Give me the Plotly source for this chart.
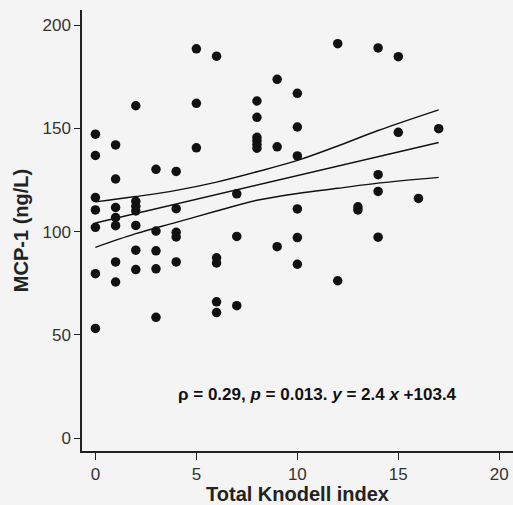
import plotly.graph_objects as go

# Data (Total Knodell index vs MCP-1)
knodell = ([0]*7 + [1]*7 + [2]*7 + [3]*5 + [4]*5 + [5]*3 + [6]*5 + [7]*3 +
           [8]*6 + [9]*3 + [10]*6 + [12]*2 + [13]*2 + [14]*4 + [15]*2 + [16] + [17])
mcp1 = [147.2, 136.9, 116.5, 110.5, 102.1, 79.6, 53.1,
        142.0, 125.5, 111.7, 106.8, 102.9, 85.3, 75.6,
        161.0, 114.7, 112.3, 110.0, 103.0, 91.0, 81.6,
        130.2, 100.3, 90.7, 82.0, 58.5,
        129.2, 111.1, 99.7, 97.4, 85.3,
        188.6, 162.2, 140.6,
        185.0, 87.3, 84.8, 66.0, 60.8,
        118.3, 97.7, 64.1,
        163.3, 155.4, 145.7, 144.0, 142.2, 140.4,
        173.8, 141.1, 92.7,
        167.0, 150.7, 136.7, 111.0, 97.1, 84.2,
        191.1, 76.2,
        112.0, 110.5,
        189.0, 127.6, 119.5, 97.3,
        184.8, 148.1,
        116.1,
        149.9]

# Regression line and confidence band
fit_x = [0, 17]
fit_y = [104.2, 143.2]
band_x = [0, 2, 4, 6, 8, 10, 12, 14, 17]
band_upper = [114.4, 117.0, 120.0, 124.0, 129.0, 134.5, 141.5, 149.0, 159.0]
band_lower = [92.4, 99.0, 104.5, 110.0, 115.2, 118.5, 121.0, 123.5, 126.3]

x_ticks = [0, 5, 10, 15, 20]
y_ticks = [0, 50, 100, 150, 200]

FONT = "Liberation Sans, Arial, sans-serif"
BG = "#f4f4f4"

fig = go.Figure()
fig.add_trace(go.Scatter(x=band_x, y=band_upper, mode="lines",
                         line=dict(color="#111111", width=1.4, shape="spline"),
                         showlegend=False, hoverinfo="skip"))
fig.add_trace(go.Scatter(x=band_x, y=band_lower, mode="lines",
                         line=dict(color="#111111", width=1.4, shape="spline"),
                         showlegend=False, hoverinfo="skip"))
fig.add_trace(go.Scatter(x=fit_x, y=fit_y, mode="lines",
                         line=dict(color="#111111", width=1.4),
                         showlegend=False, hoverinfo="skip"))
fig.add_trace(go.Scatter(x=knodell, y=mcp1, mode="markers",
                         marker=dict(color="#111111", size=9.5, line=dict(width=0)),
                         showlegend=False))

fig.add_annotation(x=11.0, y=21, xref="x", yref="y",
                   text="<b>ρ = 0.29, <i>p</i> = 0.013. <i>y</i> = 2.4 <i>x</i> +103.4</b>",
                   showarrow=False, font=dict(family=FONT, size=17, color="#111111"))

fig.update_layout(
    width=513, height=505,
    margin=dict(l=82, r=0, t=10, b=54),
    paper_bgcolor=BG, plot_bgcolor=BG,
    font=dict(family=FONT, color="#222222"),
    xaxis=dict(range=[-0.664, 20.68], tickvals=x_ticks, ticktext=[str(v) for v in x_ticks],
               automargin=False,
               showgrid=False, zeroline=False, showline=True, linecolor="#222222", linewidth=1.5,
               ticks="outside", ticklen=7, tickwidth=1.2, tickcolor="#222222",
               tickfont=dict(size=17, color="#333333"),
               title=dict(text="<b>Total Knodell index</b>", font=dict(size=20, color="#222222"), standoff=6)),
    yaxis=dict(range=[-6.3, 207.4], tickvals=y_ticks, ticktext=[str(v) for v in y_ticks],
               automargin=False,
               showgrid=False, zeroline=False, showline=True, linecolor="#222222", linewidth=1.5,
               ticks="outside", ticklen=6, tickwidth=1.2, tickcolor="#222222",
               tickfont=dict(size=17, color="#333333"),
               title=dict(text="<b>MCP-1 (ng/L)</b>", font=dict(size=20, color="#222222"), standoff=8)),
)

# Remove the default page margin so the 513x505 figure fills the window exactly
fig.write_html("out.html",
               config={"displayModeBar": False},
               post_script="document.body.style.margin='0';document.body.style.overflow='hidden';")
